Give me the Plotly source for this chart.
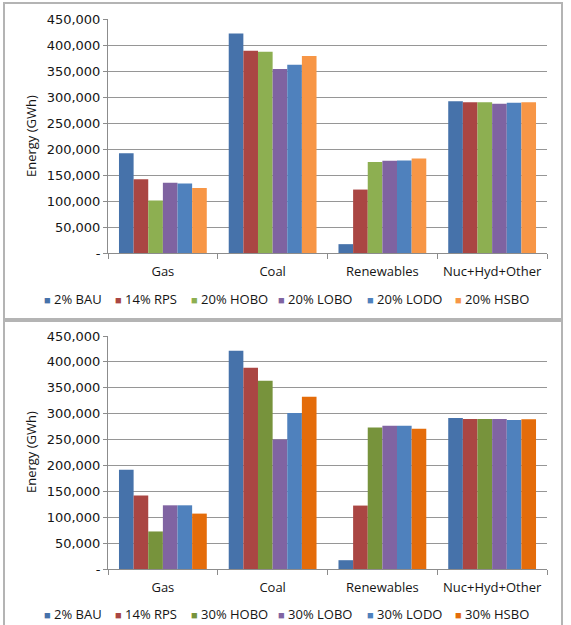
import plotly.graph_objects as go

categories = ["Gas", "Coal", "Renewables", "Nuc+Hyd+Other"]

top_series = ["2% BAU", "14% RPS", "20% HOBO", "20% LOBO", "20% LODO", "20% HSBO"]
top_values = {
    "2% BAU":   [192000, 422000, 17000, 292000],
    "14% RPS":  [142000, 389000, 122000, 290000],
    "20% HOBO": [101000, 387000, 175000, 290000],
    "20% LOBO": [135000, 354000, 177500, 287000],
    "20% LODO": [133500, 362000, 178000, 289000],
    "20% HSBO": [125000, 379000, 181500, 290000],
}
bottom_series = ["2% BAU", "14% RPS", "30% HOBO", "30% LOBO", "30% LODO", "30% HSBO"]
bottom_values = {
    "2% BAU":   [191500, 421500, 17000, 291500],
    "14% RPS":  [142000, 388500, 122500, 289500],
    "30% HOBO": [72500, 363500, 273500, 289500],
    "30% LOBO": [123000, 250000, 276500, 289500],
    "30% LODO": [123000, 301500, 276500, 288000],
    "30% HSBO": [107000, 332500, 271000, 289000],
}
top_colors = ["#4672AA", "#AA4643", "#8DAF51", "#7F63A1", "#4F81BD", "#F79646"]
bottom_colors = ["#4672AA", "#AA4643", "#77933C", "#8064A2", "#4F81BD", "#E46C0A"]

tick_vals = [0, 50000, 100000, 150000, 200000, 250000, 300000, 350000, 400000, 450000]
tick_text = ["-", "50,000", "100,000", "150,000", "200,000", "250,000",
             "300,000", "350,000", "400,000", "450,000"]
y_title = "Energy (GWh)"

W, H = 571, 625
FONT = "Open Sans"
TXT = "#151515"

fig = go.Figure()
for name, col in zip(top_series, top_colors):
    fig.add_trace(go.Bar(x=categories, y=top_values[name], name=name,
                         marker=dict(color=col, line=dict(width=0)),
                         xaxis="x", yaxis="y", showlegend=False))
for name, col in zip(bottom_series, bottom_colors):
    fig.add_trace(go.Bar(x=categories, y=bottom_values[name], name=name,
                         marker=dict(color=col, line=dict(width=0)),
                         xaxis="x2", yaxis="y2", showlegend=False))

def px_x(v):
    return v / W

def px_y(v):
    return 1 - v / H

xdom = [px_x(108), px_x(547)]
ydom_top = [px_y(253), px_y(19)]
ydom_bot = [px_y(569), px_y(336)]

xaxis_common = dict(
    domain=xdom, type="category", showline=True, linecolor="#8c8c8c", linewidth=1,
    ticks="outside", ticklen=5, tickcolor="#8c8c8c", tickson="boundaries",
    showgrid=False, ticklabelstandoff=6, automargin=False,
    tickfont=dict(family=FONT, size=13, color=TXT),
)
yaxis_common = dict(
    range=[0, 450000], tickvals=tick_vals, ticktext=tick_text,
    showline=True, linecolor="#8c8c8c", linewidth=1,
    ticks="outside", ticklen=4, tickcolor="#8c8c8c", automargin=False,
    showgrid=True, gridcolor="#969696", gridwidth=1, zeroline=False,
    tickfont=dict(family="DejaVu Sans", size=13, color=TXT),
)

fig.update_layout(
    template="none",
    width=W, height=H, margin=dict(l=0, r=0, t=0, b=0, autoexpand=False),
    paper_bgcolor="white", plot_bgcolor="white",
    barmode="group", bargap=0.2, bargroupgap=0,
    xaxis=dict(**xaxis_common, anchor="y"),
    yaxis=dict(**yaxis_common, domain=ydom_top, anchor="x"),
    xaxis2=dict(**xaxis_common, anchor="y2"),
    yaxis2=dict(**yaxis_common, domain=ydom_bot, anchor="x2"),
)

# y-axis titles
for cy in [136, 452]:
    fig.add_annotation(xref="paper", yref="paper", x=px_x(31), y=px_y(cy),
                       xanchor="center", yanchor="middle", showarrow=False,
                       textangle=-90, text=y_title,
                       font=dict(family=FONT, size=13, color=TXT))

# panel borders
fig.add_shape(type="rect", xref="paper", yref="paper",
              x0=px_x(4), x1=px_x(562), y0=px_y(319), y1=px_y(3),
              line=dict(color="#b4b4b4", width=2))
fig.add_shape(type="rect", xref="paper", yref="paper",
              x0=px_x(4), x1=px_x(562), y0=px_y(630), y1=px_y(321),
              line=dict(color="#b4b4b4", width=2))

# legends (as text rows)
legend_x = [43, 114, 190, 277, 366, 454]
for series, colors, ly in [(top_series, top_colors, 299), (bottom_series, bottom_colors, 614)]:
    for name, col, lx in zip(series, colors, legend_x):
        fig.add_annotation(
            xref="paper", yref="paper", x=px_x(lx - 1), y=px_y(ly),
            xanchor="left", yanchor="middle", showarrow=False,
            text=f'<span style="color:{col};font-size:11px">■</span> {name}',
            font=dict(family=FONT, size=13, color=TXT),
        )

fig.write_html("out.html")
